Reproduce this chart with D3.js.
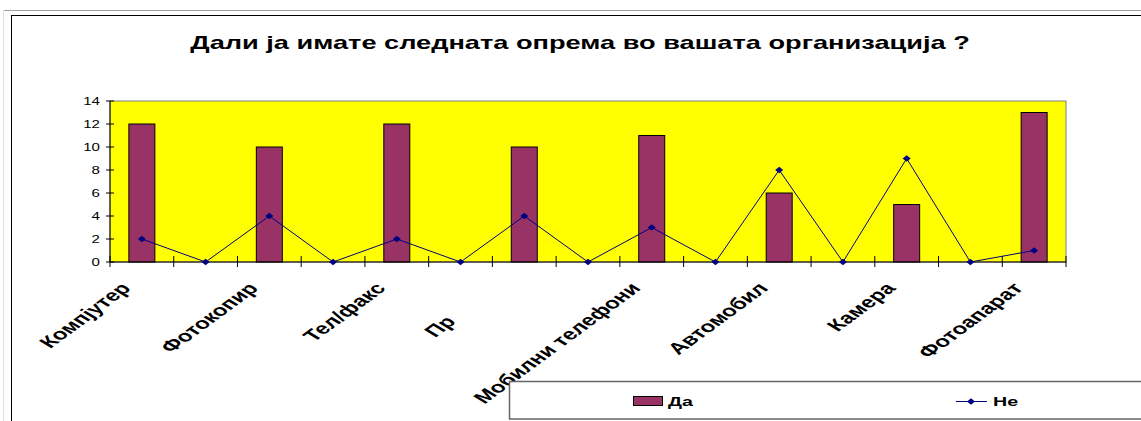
<!DOCTYPE html>
<html><head><meta charset="utf-8">
<script src="https://cdn.jsdelivr.net/npm/d3@7"></script>
<style>html,body{margin:0;padding:0;background:#fff;overflow:hidden}svg{display:block}</style>
</head><body>
<svg id="c" width="1141" height="421"></svg>
<script>
const title = "Дали ја имате следната опрема во вашата организација ?";
const categories = ["Компјутер","","Фотокопир","","Тел/факс","","Пр","","Мобилни телефони","","Автомобил","","Камера","","Фотоапарат"];
const truncatedLabel = ["","","","","","","Пр","","","","","","","",""];
const daValues = [12,0,10,0,12,0,10,0,11,0,6,0,5,0,13];
const neValues = [2,0,4,0,2,0,4,0,3,0,8,0,9,0,1];
const yTicks = [0,2,4,6,8,10,12,14];
const seriesNames = ["Да","Не"];

const svg = d3.select("#c");
const FONT = "'Liberation Sans', Arial, sans-serif";
const L = 110, R = 1066, T = 101, B = 262;

// page frame
svg.append("line").attr("x1",4).attr("x2",1141).attr("y1",10.5).attr("y2",10.5).attr("stroke","#a0a0a0");
svg.append("line").attr("x1",3.5).attr("x2",3.5).attr("y1",10).attr("y2",421).attr("stroke","#e0e0e0");
svg.append("line").attr("x1",11.5).attr("x2",1141).attr("y1",15.5).attr("y2",15.5).attr("stroke","#000");
svg.append("line").attr("x1",11.5).attr("x2",11.5).attr("y1",15).attr("y2",421).attr("stroke","#000");

// title, measure for horizontal stretch
const tt = svg.append("text").attr("font-family",FONT).attr("font-weight","bold").attr("font-size",18).text(title);
const tw = tt.node().getComputedTextLength();
const SX = 780 / tw;
tt.attr("text-anchor","middle").attr("transform",`translate(580,49) scale(${SX},1)`);

const x = d3.scaleBand().domain(d3.range(categories.length)).range([L,R]).paddingInner(1-26/((R-L)/15)).paddingOuter((1-26/((R-L)/15))/2);
const slot = d3.scaleLinear().domain([0,categories.length]).range([L,R]);
const y = d3.scaleLinear().domain([0,14]).range([B,T]);

// plot area
svg.append("rect").attr("x",L).attr("y",T).attr("width",R-L).attr("height",B-T).attr("fill","#ffff00").attr("stroke","#808080").attr("stroke-width",1);

// bars
svg.append("g").selectAll("rect").data(daValues.map((v,i)=>({v,i})).filter(d=>d.v>0)).join("rect")
  .attr("x",d=>x(d.i)).attr("width",x.bandwidth())
  .attr("y",d=>y(d.v)).attr("height",d=>y(0)-y(d.v))
  .attr("fill","#993366").attr("stroke","#000").attr("stroke-width",1);

// axes
svg.append("line").attr("x1",L).attr("x2",L).attr("y1",T).attr("y2",B).attr("stroke","#000");
svg.append("line").attr("x1",L).attr("x2",R).attr("y1",B).attr("y2",B).attr("stroke","#000");
svg.append("g").selectAll("line").data(yTicks).join("line")
  .attr("x1",106).attr("x2",114).attr("y1",d=>y(d)).attr("y2",d=>y(d)).attr("stroke","#000");
svg.append("g").selectAll("text").data(yTicks).join("text")
  .attr("text-anchor","end").attr("font-family",FONT).attr("font-size",10)
  .attr("transform",d=>`translate(100,${y(d)+3.5}) scale(${SX},1)`).text(d=>d);
svg.append("g").selectAll("line").data(d3.range(categories.length+1)).join("line")
  .attr("x1",d=>slot(d)).attr("x2",d=>slot(d)).attr("y1",256).attr("y2",267).attr("stroke","#000");

// x labels
svg.append("g").selectAll("text").data(categories.map((c,i)=>({c,i})).filter(d=>d.c!=="")).join("text")
  .attr("font-family",FONT).attr("font-weight","bold").attr("font-size",16)
  .attr("text-anchor",d=>truncatedLabel[d.i] ? "start" : "end")
  .attr("transform",d=>{
    const cx = x(d.i)+x.bandwidth()/2;
    if (truncatedLabel[d.i]) return `translate(${cx-89},338) scale(${SX},1) rotate(-48)`;
    return `translate(${cx-10},289) scale(${SX},1) rotate(-48)`;
  })
  .text(d=>d.c);

// line series
const diamond = "M0,-3.2L4,0L0,3.2L-4,0Z";
const line = d3.line().x((d,i)=>x(i)+x.bandwidth()/2).y(d=>y(d));
svg.append("path").datum(neValues).attr("d",line).attr("fill","none").attr("stroke","#000080").attr("stroke-width",1);
svg.append("g").selectAll("path").data(neValues).join("path")
  .attr("d",diamond).attr("transform",(d,i)=>`translate(${x(i)+x.bandwidth()/2},${y(d)})`).attr("fill","#000080");

// legend
svg.append("rect").attr("x",509.5).attr("y",381.5).attr("width",700).attr("height",37.5).attr("fill","#fff").attr("stroke","#666").attr("stroke-width",1.5);
svg.append("rect").attr("x",633.5).attr("y",396.5).attr("width",29).attr("height",9).attr("fill","#993366").attr("stroke","#000");
svg.append("text").attr("font-family",FONT).attr("font-weight","bold").attr("font-size",13)
  .attr("transform",`translate(668,406) scale(${SX},1)`).text(seriesNames[0]);
svg.append("line").attr("x1",956).attr("x2",987).attr("y1",401.5).attr("y2",401.5).attr("stroke","#000080");
svg.append("path").attr("d",diamond).attr("transform","translate(971,401.5)").attr("fill","#000080");
svg.append("text").attr("font-family",FONT).attr("font-weight","bold").attr("font-size",13)
  .attr("transform",`translate(993,406) scale(${SX},1)`).text(seriesNames[1]);
</script>
</body></html>
